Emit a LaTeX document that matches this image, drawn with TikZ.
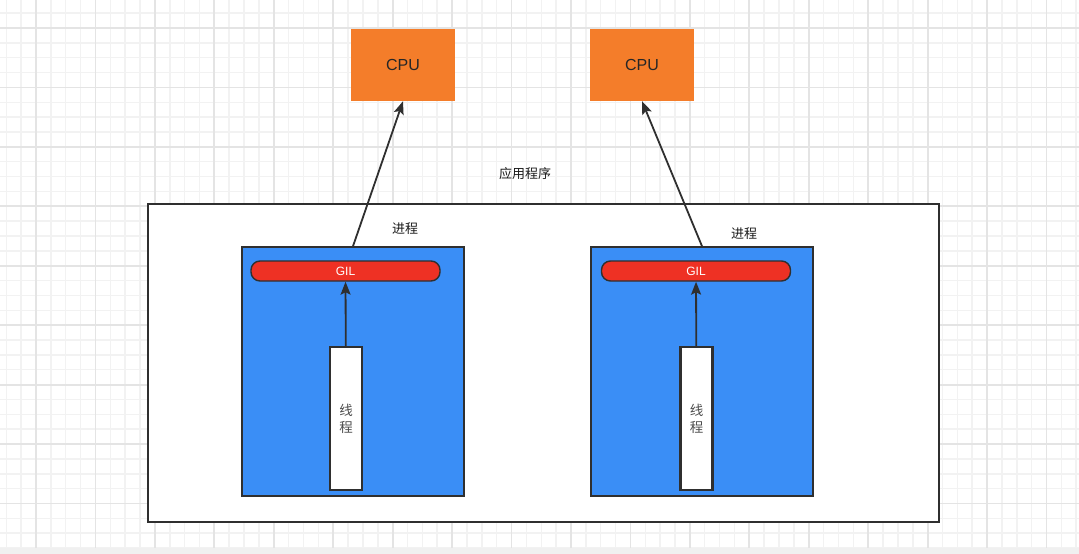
\documentclass[tikz,border=0pt]{standalone}
\usepackage{fontspec}
\setmainfont{Liberation Sans}
\newfontfamily\cjk{Noto Sans CJK SC}
\usetikzlibrary{arrows.meta}
\definecolor{cpuorange}{HTML}{F47D2A}
\definecolor{procblue}{HTML}{3A8EF6}
\definecolor{gilred}{HTML}{EE3124}
\definecolor{edgegray}{HTML}{2F2F2F}
\definecolor{gridminor}{HTML}{F2F2F2}
\definecolor{gridmajor}{HTML}{E4E4E4}

\begin{document}
\begin{tikzpicture}[x=1pt, y=-1pt,
    cpubox/.style={fill=cpuorange, minimum width=104pt, minimum height=72pt,
      inner sep=0pt, text=black!85, font=\fontsize{16}{19}\selectfont},
    appbox/.style={draw=edgegray, line width=2pt, fill=white,
      minimum width=791pt, minimum height=318pt, inner sep=0pt},
    procbox/.style={draw=edgegray, line width=1.6pt, fill=procblue,
      minimum width=222pt, minimum height=249pt, inner sep=0pt},
    gilbar/.style={draw=edgegray, line width=1.4pt, fill=gilred, rounded corners=9pt,
      minimum width=189pt, minimum height=20pt, inner sep=0pt,
      text=white, font=\fontsize{12}{14}\selectfont},
    threadbox/.style={draw=edgegray, line width=2.2pt, fill=white,
      minimum width=32pt, minimum height=143pt, inner sep=0pt,
      align=center, text=black!70, font=\cjk\fontsize{13.5}{17}\selectfont},
    label/.style={font=\cjk\fontsize{13}{15}\selectfont, text=black!90},
    link/.style={-{Stealth[length=13pt,width=10pt,inset=2.5pt]}, draw=edgegray, line width=1.8pt}]
  \useasboundingbox (0,0) rectangle (1079,554);

  % Background grid
  \foreach \k in {0,...,72} {
    \pgfmathsetmacro{\gx}{6.3+14.86*\k}
    \draw[gridminor, line width=1.5pt] (\gx,0) -- (\gx,548);
  }
  \foreach \k in {0,...,36} {
    \pgfmathsetmacro{\gy}{13.1+14.86*\k}
    \draw[gridminor, line width=1.5pt] (0,\gy) -- (1079,\gy);
  }
  \foreach \k in {0,...,17} {
    \pgfmathsetmacro{\gx}{36+59.44*\k}
    \draw[gridmajor, line width=1.8pt] (\gx,0) -- (\gx,548);
  }
  \foreach \k in {0,...,9} {
    \pgfmathsetmacro{\gy}{28+59.44*\k}
    \draw[gridmajor, line width=1.8pt] (0,\gy) -- (1079,\gy);
  }
  \fill[black!6] (0,548) rectangle (1079,554);

  % CPUs
  \node[cpubox] (cpu1) at (403,65) {CPU};
  \node[cpubox] (cpu2) at (642,65) {CPU};

  % Application
  \node[label] (applbl) at (525,174) {应用程序};
  \node[appbox] (app) at (543.5,363) {};

  % Processes
  \node[procbox] (proc1) at (353,371.5) {};
  \node[procbox] (proc2) at (702,371.5) {};
  \node[label] (proclbl1) at (405,229) {进程};
  \node[label] (proclbl2) at (744,234) {进程};

  % GIL bars
  \node[gilbar] (gil1) at (345.5,271) {GIL};
  \node[gilbar] (gil2) at (696,271) {GIL};

  % Threads
  \node[threadbox] (thr1) at (346,418.5) {线\\程};
  \node[threadbox] (thr2) at (696.5,418.5) {线\\程};

  % Arrows
  \draw[link] (thr1) -- (gil1);
  \draw[link] (thr2) -- (gil2);
  \draw[link] (proc1.north) -- (cpu1.south);
  \draw[link] (proc2.north) -- (cpu2.south);
\end{tikzpicture}
\end{document}
